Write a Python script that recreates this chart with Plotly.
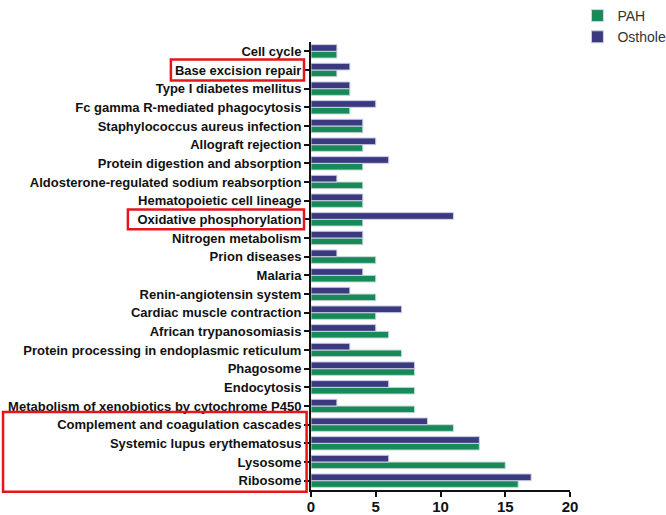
import plotly.graph_objects as go

# categories from bottom to top
categories = [
    "Ribosome", "Lysosome", "Systemic lupus erythematosus",
    "Complement and coagulation cascades",
    "Metabolism of xenobiotics by cytochrome P450", "Endocytosis", "Phagosome",
    "Protein processing in endoplasmic reticulum", "African trypanosomiasis",
    "Cardiac muscle contraction", "Renin-angiotensin system", "Malaria",
    "Prion diseases", "Nitrogen metabolism", "Oxidative phosphorylation",
    "Hematopoietic cell lineage", "Aldosterone-regulated sodium reabsorption",
    "Protein digestion and absorption", "Allograft rejection",
    "Staphylococcus aureus infection", "Fc gamma R-mediated phagocytosis",
    "Type I diabetes mellitus", "Base excision repair", "Cell cycle",
]
pah = [16, 15, 13, 11, 8, 8, 8, 7, 6, 5, 5, 5, 5, 4, 4, 4, 4, 4, 4, 4, 3, 3, 2, 2]
osthole = [17, 6, 13, 9, 2, 6, 8, 3, 5, 7, 3, 4, 2, 4, 11, 4, 2, 6, 5, 4, 5, 3, 3, 2]
x_ticks = [0, 5, 10, 15, 20]

GREEN = "#188a58"
PURPLE = "#3c3a7e"
LABEL_FONT = "Liberation Sans, Arial"

fig = go.Figure()
fig.add_trace(go.Bar(y=categories, x=pah, orientation="h", name="PAH",
                     marker=dict(color=GREEN, line=dict(color="#c9dbe0", width=1))))
fig.add_trace(go.Bar(y=categories, x=osthole, orientation="h", name="Osthole",
                     marker=dict(color=PURPLE, line=dict(color="#c9d0e6", width=1))))

# highlight boxes (x and y in paper units)
RED = "#e3161d"
boxes = [
    (-0.541, -0.027, 0.914, 0.961),   # Base excision repair
    (-0.707, -0.027, 0.582, 0.626),   # Oxidative phosphorylation
    (-1.189, -0.017, -0.004, 0.174),  # bottom four
]
for x0, x1, y0, y1 in boxes:
    fig.add_shape(type="rect", xref="paper", yref="paper", x0=x0, x1=x1, y0=y0, y1=y1,
                  line=dict(color=RED, width=2.5), fillcolor="rgba(0,0,0,0)")

fig.update_layout(
    width=666, height=515, autosize=False,
    margin=dict(l=311, r=96, t=42, b=25),
    paper_bgcolor="white", plot_bgcolor="white",
    barmode="group", bargap=0.28, bargroupgap=0,
    showlegend=True,
    legend=dict(xref="container", yref="paper", x=0.867, y=1.107,
                xanchor="left", yanchor="top",
                font=dict(family="Liberation Sans, Arial", size=14, color="#333333"),
                bgcolor="rgba(0,0,0,0)"),
    xaxis=dict(range=[0, 20], tickvals=x_ticks, ticks="outside", ticklen=5, tickwidth=2,
               showline=True, linewidth=2, linecolor="#111111", showgrid=False,
               zeroline=False, tickcolor="#111111", automargin=False,
               ticklabelstandoff=-3,
               tickfont=dict(family=LABEL_FONT, size=15, color="#111111", weight="bold")),
    yaxis=dict(categoryorder="array", categoryarray=categories,
               range=[-0.5, 23.5], ticks="outside", ticklen=5, tickwidth=2,
               showline=True, linewidth=2, linecolor="#111111", showgrid=False,
               zeroline=False, tickcolor="#111111", automargin=False,
               tickfont=dict(family=LABEL_FONT, size=13, color="#111111", weight="bold")),
)

fig.write_html("out.html", config={"displayModeBar": False},
               post_script="document.body.style.margin='0';")
